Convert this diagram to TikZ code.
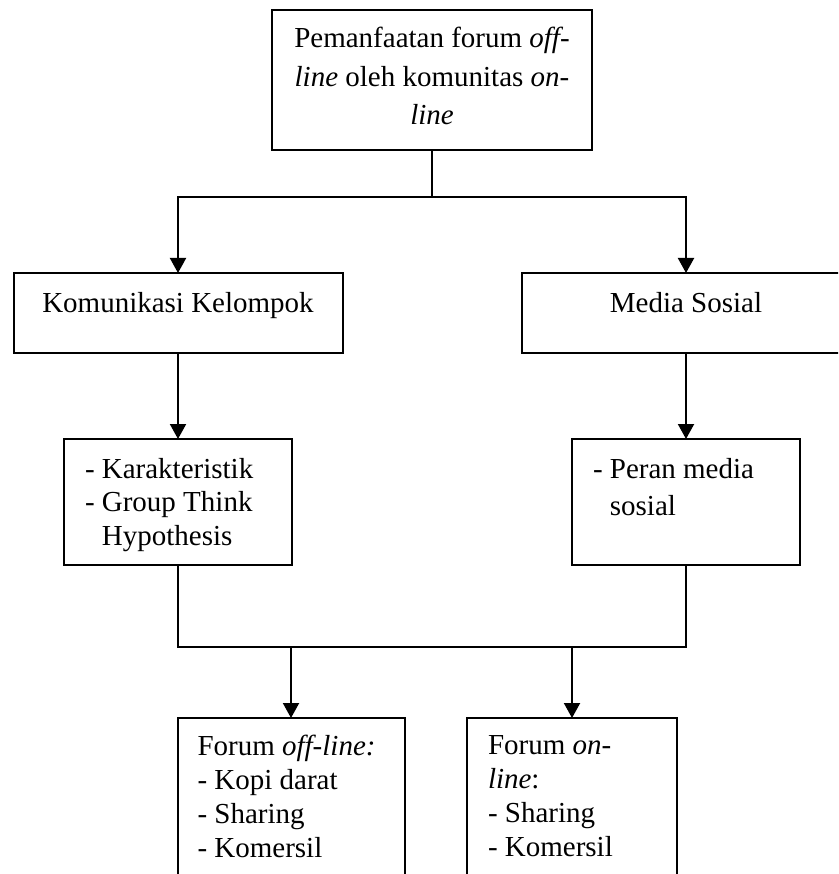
\documentclass[tikz,border=0pt]{standalone}
\usepackage{fontspec}
\setmainfont{Liberation Serif}
\usetikzlibrary{arrows.meta}
\newcommand\boxtxt[5]{\parbox[c][#2pt][t]{#1pt}{\fontsize{29}{#4pt}\selectfont #5}}
\begin{document}
\begin{tikzpicture}[x=1pt,y=-1pt,
  box/.style={draw, line width=2pt, inner sep=0pt, outer sep=0pt, rectangle, anchor=north west},
  conn/.style={line width=2pt},
  arr/.style={conn, -{Triangle[length=15pt,width=16pt]}}]
\useasboundingbox (0,0) rectangle (838,874);
\clip (0,0) rectangle (838,874);

\node[box] (top) at (272,10) {\boxtxt{320}{140}{38}{38.5}{\centering\rule{0pt}{38pt}Pemanfaatan forum \textit{off-}\\\textit{line} oleh komunitas \textit{on-}\\\textit{line}}};

\node[box] (kk) at (13.5,273) {\boxtxt{329}{80}{39}{34}{\centering\rule{0pt}{39pt}Komunikasi Kelompok}};
\node[box] (ms) at (521.5,273) {\boxtxt{329}{80}{39}{34}{\centering\rule{0pt}{39pt}Media Sosial}};

\node[box] (kar) at (64,439) {\boxtxt{228}{126}{39}{33.5}{\raggedright\leftskip=21pt\relax\rule{0pt}{39pt}- Karakteristik\\- Group Think\\\phantom{- }Hypothesis}};
\node[box] (peran) at (572,439) {\boxtxt{228}{126}{39}{37}{\raggedright\leftskip=21pt\relax\rule{0pt}{39pt}- Peran media\\\phantom{- }sosial}};

\node[box] (off) at (177.5,718) {\boxtxt{227}{190}{37}{34}{\raggedright\leftskip=20pt\relax\rule{0pt}{37pt}Forum \textit{off-line:}\\- Kopi darat\\- Sharing\\- Komersil}};
\node[box] (on) at (467,718) {\boxtxt{210}{190}{36}{34.3}{\raggedright\leftskip=21pt\relax\rule{0pt}{36pt}Forum \textit{on-}\\\textit{line}:\\- Sharing\\- Komersil}};

\coordinate (j1) at (top.south |- 0,197);
\draw[conn] (top.south) -- (j1);
\draw[arr] (j1) -| (kk.north);
\draw[arr] (j1) -| (ms.north);
\draw[arr] (kk.south) -- (kar.north);
\draw[arr] (ms.south) -- (peran.north);
\coordinate (j2) at (top.south |- 0,647);
\draw[conn] (kar.south) |- (j2) -| (peran.south);
\draw[arr] (off.north |- j2) -- (off.north);
\draw[arr] (on.north |- j2) -- (on.north);
\end{tikzpicture}
\end{document}
